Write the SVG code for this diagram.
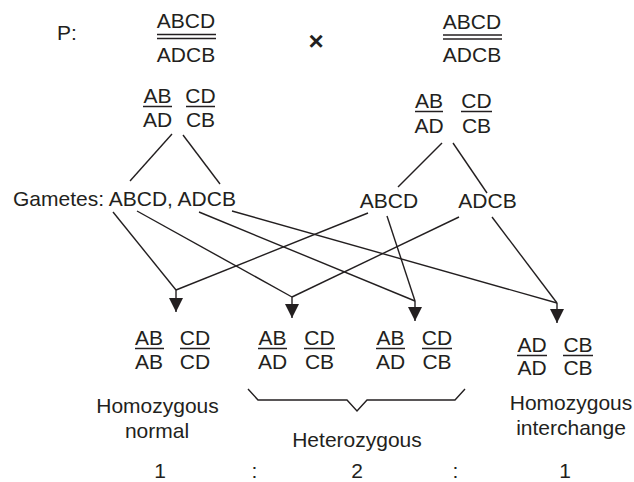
<svg xmlns="http://www.w3.org/2000/svg" width="634" height="482" viewBox="0 0 634 482">
<style>
text{font-family:"Liberation Sans",Arial,sans-serif;font-size:21px;fill:#231f20}
.m{text-anchor:middle}
.bar{stroke:#231f20;stroke-width:1.5;fill:none}
.c{stroke:#231f20;stroke-width:1.4;fill:none}
</style>
<defs>
<marker id="ah" markerUnits="userSpaceOnUse" markerWidth="14" markerHeight="14" viewBox="0 0 12 12" refX="12" refY="6" orient="auto">
<path d="M0,0 L12,6 L0,12 Z" fill="#231f20"/>
</marker>
</defs>
<rect width="634" height="482" fill="#fff"/>
<g id="p-label"><text x="57" y="40">P:</text></g>
<g id="parent1">
<text class="m" x="186" y="28">ABCD</text>
<line class="bar" x1="157" y1="34.5" x2="216" y2="34.5"/>
<line class="bar" x1="157" y1="38.5" x2="216" y2="38.5"/>
<text class="m" x="186" y="62">ADCB</text>
</g>
<g id="cross"><text class="m" x="316" y="50" style="font-size:26px;font-weight:bold">×</text></g>
<g id="parent2">
<text class="m" x="472" y="29">ABCD</text>
<line class="bar" x1="443" y1="35" x2="502" y2="35"/>
<line class="bar" x1="443" y1="39" x2="502" y2="39"/>
<text class="m" x="472" y="62">ADCB</text>
</g>
<g id="parent1-pairs">
<text class="m" x="157.5" y="103">AB</text><line class="bar" x1="143" y1="106.5" x2="172" y2="106.5"/><text class="m" x="157.5" y="127">AD</text>
<text class="m" x="200.5" y="103">CD</text><line class="bar" x1="186" y1="106.5" x2="215" y2="106.5"/><text class="m" x="200.5" y="127">CB</text>
</g>
<g id="parent2-pairs">
<text class="m" x="429" y="108">AB</text><line class="bar" x1="415" y1="111.5" x2="443" y2="111.5"/><text class="m" x="429" y="133">AD</text>
<text class="m" x="476.5" y="108">CD</text><line class="bar" x1="461" y1="111.5" x2="492" y2="111.5"/><text class="m" x="476.5" y="133">CB</text>
</g>
<g id="gametes-left"><text x="13" y="206">Gametes: ABCD, ADCB</text></g>
<g id="gamete-abcd"><text class="m" x="389" y="208">ABCD</text></g>
<g id="gamete-adcb"><text class="m" x="487.5" y="208">ADCB</text></g>
<g id="offspring1">
<text class="m" x="149" y="345">AB</text><line class="bar" x1="135" y1="348.5" x2="164" y2="348.5"/><text class="m" x="149" y="369">AB</text>
<text class="m" x="195" y="345">CD</text><line class="bar" x1="180" y1="348.5" x2="210" y2="348.5"/><text class="m" x="195" y="369">CD</text>
</g>
<g id="offspring2">
<text class="m" x="272.5" y="345">AB</text><line class="bar" x1="258" y1="348.5" x2="287" y2="348.5"/><text class="m" x="272.5" y="369">AD</text>
<text class="m" x="319.5" y="345">CD</text><line class="bar" x1="304" y1="348.5" x2="335" y2="348.5"/><text class="m" x="319.5" y="369">CB</text>
</g>
<g id="offspring3">
<text class="m" x="390.5" y="345">AB</text><line class="bar" x1="376" y1="348.5" x2="405" y2="348.5"/><text class="m" x="390.5" y="369">AD</text>
<text class="m" x="437" y="345">CD</text><line class="bar" x1="422" y1="348.5" x2="452" y2="348.5"/><text class="m" x="437" y="369">CB</text>
</g>
<g id="offspring4">
<text class="m" x="532" y="352">AD</text><line class="bar" x1="517" y1="355.5" x2="547" y2="355.5"/><text class="m" x="532" y="375">AD</text>
<text class="m" x="578" y="352">CB</text><line class="bar" x1="563" y1="355.5" x2="593" y2="355.5"/><text class="m" x="578" y="375">CB</text>
</g>
<g id="brace"><path class="c" d="M248,389 L258,400 L347,400 L357,411 L367,400 L455,400 L465,389"/></g>
<g id="labels">
<text class="m" x="157.5" y="413">Homozygous</text>
<text class="m" x="157" y="438">normal</text>
<text class="m" x="357" y="447">Heterozygous</text>
<text class="m" x="571" y="410">Homozygous</text>
<text class="m" x="571" y="435">interchange</text>
</g>
<g id="ratio">
<text class="m" x="160" y="478">1</text>
<text class="m" x="254.5" y="478">:</text>
<text class="m" x="357" y="478">2</text>
<text class="m" x="455.5" y="478">:</text>
<text class="m" x="565" y="478">1</text>
</g>
<g id="connectors">
<line class="c" x1="172" y1="134" x2="130" y2="181"/>
<line class="c" x1="183" y1="135" x2="220" y2="184"/>
<line class="c" x1="442" y1="143" x2="398" y2="187"/>
<line class="c" x1="453" y1="143" x2="487" y2="193"/>
<line class="c" x1="113" y1="212" x2="176" y2="290"/>
<line class="c" x1="368" y1="213" x2="176" y2="290"/>
<line class="c" x1="137" y1="211" x2="292" y2="297"/>
<line class="c" x1="459" y1="217" x2="292" y2="297"/>
<line class="c" x1="199" y1="212" x2="415" y2="301"/>
<line class="c" x1="387" y1="216" x2="415" y2="301"/>
<line class="c" x1="232" y1="211" x2="557" y2="303"/>
<line class="c" x1="492" y1="217" x2="557" y2="303"/>
<line class="c" x1="176" y1="290" x2="176" y2="312" marker-end="url(#ah)"/>
<line class="c" x1="292" y1="297" x2="292" y2="318" marker-end="url(#ah)"/>
<line class="c" x1="415" y1="301" x2="415" y2="321" marker-end="url(#ah)"/>
<line class="c" x1="557" y1="303" x2="557" y2="323" marker-end="url(#ah)"/>
</g>
</svg>
